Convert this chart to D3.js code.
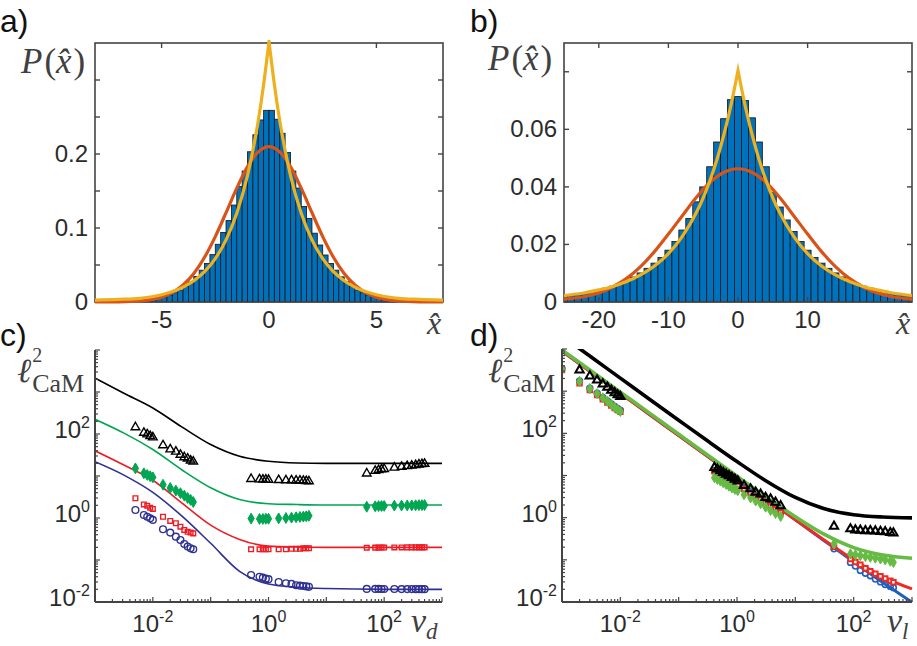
<!DOCTYPE html>
<html><head><meta charset="utf-8">
<script src="https://cdn.jsdelivr.net/npm/d3@7"></script>
<style>body{margin:0;background:#fff}svg{display:block}</style>
</head><body>
<svg id="fig" width="917" height="646"></svg>
<script>
// ================= DATA =================
// ---- Panel a ----
const aXDomain = [-8.1, 8.1];
const aYDomain = [0, 0.35];
const aXTicks = [-5, 0, 5];
const aYTicks = [0, 0.05, 0.1, 0.15, 0.2, 0.25, 0.3];
const aYTickLabels = ["0", "", "0.1", "", "0.2", "", ""];
const aBinStart = -6, aBinWidth = 0.25;
const aHist = [0.0018, 0.0026, 0.0036, 0.005, 0.007, 0.0095, 0.0125, 0.016, 0.021, 0.027, 0.0345, 0.043,
  0.052, 0.064, 0.078, 0.094, 0.110, 0.131, 0.156, 0.177, 0.203, 0.226, 0.246, 0.259,
  0.259, 0.247, 0.228, 0.202, 0.177, 0.154, 0.129, 0.113, 0.093, 0.077, 0.0635, 0.052,
  0.043, 0.034, 0.0275, 0.0216, 0.016, 0.0126, 0.0095, 0.0072, 0.005, 0.0036, 0.0027, 0.0018];
const aGaussX = [-8.1, -7, -6, -5.5, -5, -4.5, -4, -3.5, -3, -2.5, -2, -1.5, -1, -0.5, 0, 0.5, 1, 1.5, 2, 2.5, 3, 3.5, 4, 4.5, 5, 5.5, 6, 7, 8.1];
const aGaussY = [0, 0.0002, 0.0014, 0.0032, 0.0066, 0.0127, 0.0229, 0.0385, 0.0605, 0.0884, 0.1207, 0.1538, 0.183, 0.2029, 0.21,
  0.2029, 0.183, 0.1538, 0.1207, 0.0884, 0.0605, 0.0385, 0.0229, 0.0127, 0.0066, 0.0032, 0.0014, 0.0002, 0];
const aLapX = [-8.1, -7, -6, -5, -4, -3.5, -3, -2.5, -2, -1.5, -1, -0.75, -0.5, -0.25, 0, 0.25, 0.5, 0.75, 1, 1.5, 2, 2.5, 3, 3.5, 4, 5, 6, 7, 8.1];
const aLapY = [0.0025, 0.0035, 0.005, 0.0098, 0.020, 0.0287, 0.041, 0.0587, 0.084, 0.12, 0.171, 0.205, 0.245, 0.294, 0.352,
  0.294, 0.245, 0.205, 0.171, 0.12, 0.084, 0.0587, 0.041, 0.0287, 0.020, 0.0098, 0.005, 0.0035, 0.0025];

// ---- Panel b ----
const bXDomain = [-25, 25];
const bYDomain = [0, 0.09];
const bXTicks = [-20, -10, 0, 10];
const bYTicks = [0, 0.02, 0.04, 0.06, 0.08];
const bYTickLabels = ["0", "0.02", "0.04", "0.06", ""];
const bBinStart = -25.5, bBinWidth = 1;
const bHist = [0.0021, 0.0024, 0.0028, 0.0032, 0.0037, 0.0042, 0.0048, 0.0055, 0.0063, 0.0072, 0.0087, 0.0101, 0.0117, 0.0135, 0.0155,
  0.018, 0.021, 0.025, 0.029, 0.0348, 0.040, 0.047, 0.0556, 0.0637, 0.0703,
  0.0714,
  0.070, 0.064, 0.0556, 0.047, 0.038, 0.033, 0.0285, 0.0245, 0.021, 0.018,
  0.0155, 0.0135, 0.0117, 0.0101, 0.0087, 0.0072, 0.0063, 0.0055, 0.0048, 0.0042, 0.0037, 0.0032, 0.0028, 0.0024, 0.0021];
const bGaussX = [-25, -22, -20, -18, -16, -14, -12, -10, -8, -6, -4, -2, 0, 2, 4, 6, 8, 10, 12, 14, 16, 18, 20, 22, 25];
const bGaussY = [0.0010, 0.0019, 0.0031, 0.0052, 0.0082, 0.0123, 0.0175, 0.0236, 0.030, 0.0363, 0.0416, 0.0451, 0.0463,
  0.0451, 0.0416, 0.0363, 0.030, 0.0236, 0.0175, 0.0123, 0.0082, 0.0052, 0.0031, 0.0019, 0.0010];
const bLapX = [-25, -22, -20, -18, -16, -14, -12, -10, -8, -6, -5, -4, -3, -2, -1, 0, 1, 2, 3, 4, 5, 6, 8, 10, 12, 14, 16, 18, 20, 22, 25];
const bLapY = [0.0022, 0.0032, 0.0042, 0.0054, 0.0071, 0.0094, 0.0125, 0.0168, 0.0228, 0.031, 0.0362, 0.0424, 0.0497, 0.0584, 0.0685, 0.0804,
  0.0685, 0.0584, 0.0497, 0.0424, 0.0362, 0.031, 0.0228, 0.0168, 0.0125, 0.0094, 0.0071, 0.0054, 0.0042, 0.0032, 0.0022];

// ---- Panels c and d (log-log) ----
const logXDomain = [1e-3, 1e3];
const logYDomain = [1e-2, 1e4];
const logLabelExps = [-2, 0, 2];

// Panel c: theory lines
const cLineX = [0.001, 0.00316, 0.01, 0.0316, 0.1, 0.316, 1, 3.16, 10, 100, 1000];
const cBlackLine = [2138, 933, 417, 148, 56.2, 29.5, 22.4, 20.4, 20.0, 20.0, 20.0];
const cGreenLine = [224, 105, 42.7, 14.1, 5.25, 2.75, 2.19, 2.09, 2.04, 2.04, 2.04];
const cRedLine = [39.8, 18.2, 7.94, 2.29, 0.676, 0.309, 0.214, 0.204, 0.200, 0.200, 0.200];
const cBlueLine = [21.9, 10.5, 4.07, 1.12, 0.25, 0.0537, 0.0269, 0.0224, 0.0209, 0.0200, 0.0200];
// Panel c: simulation markers
const cX1 = [0.005, 0.007, 0.008, 0.009, 0.01, 0.015, 0.02, 0.025, 0.03, 0.035, 0.04, 0.045, 0.05];
const cX2 = [0.5, 0.7, 0.8, 0.9, 1, 1.5, 2, 2.5, 3, 3.5, 4, 4.5, 5];
const cX3 = [50, 70, 80, 90, 100, 150, 200, 250, 300, 350, 400, 450, 500];
const cBlack1 = [145, 107, 98, 89, 83, 54, 43, 38, 32, 28, 26, 23.4, 22];
const cBlack2 = [8.5, 8.3, 8.2, 8.2, 8.1, 8.0, 7.9, 7.9, 7.8, 7.8, 7.7, 7.6, 7.5];
const cBlack3 = [11.5, 13.2, 13.9, 14.4, 14.7, 15.8, 16.6, 17.2, 17.6, 18.2, 18.8, 19.2, 19.5];
const cGreen1 = [15.2, 11.6, 10.6, 9.9, 9.3, 6.2, 5.2, 4.5, 3.9, 3.4, 3.0, 2.7, 2.4];
const cGreen2 = [0.97, 0.95, 0.95, 0.96, 0.96, 0.98, 1.0, 1.02, 1.04, 1.06, 1.08, 1.1, 1.13];
const cGreen3 = [1.85, 1.9, 1.92, 1.93, 1.94, 1.97, 1.98, 1.99, 2.0, 2.01, 2.02, 2.03, 2.04];
const cRed1 = [2.95, 2.1, 1.96, 1.76, 1.64, 1.07, 0.85, 0.75, 0.62, 0.52, 0.47, 0.45, 0.43];
const cRed2 = [0.18, 0.18, 0.18, 0.18, 0.18, 0.18, 0.18, 0.185, 0.185, 0.185, 0.19, 0.19, 0.19];
const cRed3 = [0.196, 0.197, 0.197, 0.198, 0.198, 0.199, 0.199, 0.2, 0.2, 0.2, 0.2, 0.2, 0.2];
const cBlue1 = [1.55, 1.18, 1.07, 0.98, 0.90, 0.54, 0.45, 0.36, 0.30, 0.24, 0.21, 0.19, 0.18];
const cBlue2 = [0.044, 0.040, 0.038, 0.036, 0.035, 0.030, 0.028, 0.027, 0.025, 0.0245, 0.024, 0.0235, 0.023];
const cBlue3 = [0.0205, 0.0205, 0.0205, 0.0204, 0.0204, 0.0204, 0.0203, 0.0203, 0.0203, 0.0202, 0.0202, 0.0202, 0.0202];

// Panel d: theory lines
const dLineX = [0.001, 0.00316, 0.01, 0.0316, 0.1, 0.316, 1, 3.16, 10, 31.6, 100, 316, 1000];
const dBlackLine = [20400, 6456, 2041, 646, 205, 65.5, 21.4, 7.42, 3.01, 1.62, 1.174, 1.035, 0.99];
const dGreenLine = [9500, 3006, 950, 301, 95.1, 30.2, 9.6, 3.11, 1.05, 0.40, 0.195, 0.130, 0.1095];
const dRedLine = [8840, 2797, 884, 280, 88.4, 28, 8.85, 2.81, 0.896, 0.291, 0.100, 0.0396, 0.0204];
const dBlueLine = [8840, 2797, 884, 280, 88.4, 28, 8.84, 2.80, 0.885, 0.281, 0.0894, 0.0290, 0.0099];
// Panel d: simulation markers
const dX1 = [0.001, 0.002, 0.003, 0.004, 0.005, 0.006, 0.007, 0.008, 0.009, 0.01];
const dX1b = [0.002, 0.003, 0.004, 0.005, 0.006, 0.007, 0.008, 0.009, 0.01];
const dX2 = [0.41, 0.46, 0.52, 0.58, 0.65, 0.73, 0.82, 0.92, 1.03, 1.32, 1.71, 2.09, 2.54, 3.09, 3.76, 4.57, 5.6];
const dX3 = [46, 88, 107, 130, 159, 193, 235, 288, 347, 425, 480];
const dBlack1 = [3162, 2291, 1820, 1479, 1230, 1047, 912, 813, 741];
const dBlack2 = [15.5, 14.1, 12.9, 11.7, 10.7, 9.8, 8.9, 8.1, 7.4, 5.75, 4.8, 4.0, 3.6, 3.0, 2.75, 2.3, 1.9];
const dBlack3 = [0.62, 0.54, 0.51, 0.50, 0.49, 0.49, 0.48, 0.47, 0.46, 0.44, 0.43];
const dGreen1 = [3311, 1698, 1148, 871, 692, 575, 479, 407, 363, 331];
const dGreen2 = [8.9, 8.1, 7.4, 6.8, 6.2, 5.6, 5.1, 4.7, 4.4, 3.5, 2.95, 2.5, 2.15, 1.78, 1.48, 1.26, 1.07];
const dGreen3 = [0.24, 0.138, 0.132, 0.126, 0.12, 0.115, 0.11, 0.105, 0.1, 0.093, 0.087];
const dRed1 = [3162, 1549, 1072, 813, 646, 537, 457, 398, 355, 324];
const dRed2 = [12.6, 11.5, 10.5, 9.5, 8.7, 7.9, 7.2, 6.6, 6.0, 4.8, 3.8, 3.16, 2.7, 2.24, 1.9, 1.58, 1.32];
const dRed3 = [0.204, 0.105, 0.089, 0.076, 0.063, 0.054, 0.047, 0.041, 0.036, 0.032, 0.0295];
const dBlue1 = [3400, 1738, 1175, 891, 708, 589, 501, 437, 389, 355];
const dBlue2 = [13.2, 12.0, 11.0, 10.0, 9.1, 8.3, 7.6, 6.9, 6.3, 5.0, 4.0, 3.3, 2.8, 2.3, 1.95, 1.62, 1.35];
const dBlue3 = [0.182, 0.087, 0.071, 0.056, 0.048, 0.042, 0.035, 0.030, 0.026, 0.0234, 0.0219];

// ================= DRAWING =================
const svg = d3.select("#fig");
const SANS = "'Liberation Sans', Arial, Helvetica, sans-serif";
const SERIF = "'Liberation Serif', 'DejaVu Serif', serif";
const AXC = "#444444";
const TXT = "#2b2b2b";
const LBL = "#404040";
let clipId = 0;

function addClip(x0, y0, w, h) {
  const id = "clip" + (clipId++);
  svg.append("clipPath").attr("id", id).append("rect")
    .attr("x", x0).attr("y", y0).attr("width", w).attr("height", h);
  return "url(#" + id + ")";
}

function panelLabel(txt, x, y) {
  svg.append("text").attr("x", x).attr("y", y).attr("font-family", SANS)
    .attr("font-size", 32).attr("fill", "#111").text(txt);
}

function histPanel(o) {
  const x = d3.scaleLinear().domain(o.xDomain).range([o.x0, o.x1]);
  const y = d3.scaleLinear().domain(o.yDomain).range([o.y0, o.y1]);
  const g = svg.append("g");
  const clip = addClip(o.x0, o.y1 - 3, o.x1 - o.x0, o.y0 - o.y1 + 5);
  const bins = o.hist.map((p, i) => ({x0: o.binStart + i * o.binWidth, x1: o.binStart + (i + 1) * o.binWidth, p}));
  g.append("g").attr("clip-path", clip).selectAll("rect").data(bins).join("rect")
    .attr("x", d => x(d.x0)).attr("width", d => x(d.x1) - x(d.x0))
    .attr("y", d => y(d.p)).attr("height", d => y(0) - y(d.p))
    .attr("fill", "#0072BD").attr("stroke", "#1a1a1a").attr("stroke-width", 0.85);
  // box
  g.append("rect").attr("x", o.x0).attr("y", o.y1).attr("width", o.x1 - o.x0).attr("height", o.y0 - o.y1)
    .attr("fill", "none").attr("stroke", AXC).attr("stroke-width", 1.6);
  // ticks inward, all four sides
  const tl = 5;
  const ax = g.append("g").attr("stroke", AXC).attr("stroke-width", 1.4);
  o.xTicks.forEach(t => {
    ax.append("line").attr("x1", x(t)).attr("x2", x(t)).attr("y1", o.y0).attr("y2", o.y0 - tl);
    ax.append("line").attr("x1", x(t)).attr("x2", x(t)).attr("y1", o.y1).attr("y2", o.y1 + tl);
  });
  o.yTicks.forEach(t => {
    ax.append("line").attr("x1", o.x0).attr("x2", o.x0 + tl).attr("y1", y(t)).attr("y2", y(t));
    ax.append("line").attr("x1", o.x1).attr("x2", o.x1 - tl).attr("y1", y(t)).attr("y2", y(t));
  });
  // tick labels
  g.append("g").selectAll("text").data(o.xTicks).join("text")
    .attr("x", d => x(d)).attr("y", o.y0 + 26).attr("text-anchor", "middle")
    .attr("font-family", SANS).attr("font-size", 24).attr("fill", TXT)
    .text(d => d < 0 ? "-" + Math.abs(d) : String(d));
  g.append("g").selectAll("text").data(o.yTicks).join("text")
    .attr("x", o.x0 - 7).attr("y", d => y(d) + 8).attr("text-anchor", "end")
    .attr("font-family", SANS).attr("font-size", 24).attr("fill", TXT)
    .text((d, i) => o.yLabels[i]);
  // curves
  const line = d3.line().x(d => x(d[0])).y(d => y(d[1])).curve(d3.curveMonotoneX);
  const cg = g.append("g").attr("clip-path", clip).attr("fill", "none");
  const gPts = o.gaussX.map((v, i) => [v, o.gaussY[i]]);
  cg.append("path").attr("d", line(gPts)).attr("stroke", "#D95319").attr("stroke-width", 3.2);
  const lPts = o.lapX.map((v, i) => [v, o.lapY[i]]);
  const pk = d3.maxIndex(lPts, d => d[1]);
  const dPath = line(lPts.slice(0, pk + 1)) + line(lPts.slice(pk)).replace(/^M/, "L");
  cg.append("path").attr("d", dPath).attr("stroke", "#EDB120").attr("stroke-width", 3.2)
    .attr("stroke-linejoin", "miter").attr("stroke-miterlimit", 20);
  // axis labels
  const pl = svg.append("text").attr("x", o.pX).attr("y", o.pY).attr("font-family", SERIF)
    .attr("font-size", 35).attr("fill", LBL);
  pl.append("tspan").attr("font-style", "italic").text("P");
  pl.append("tspan").attr("dx", 2).text("(");
  pl.append("tspan").attr("font-style", "italic").text("x\u0302");
  pl.append("tspan").attr("dx", 2).text(")");
  svg.append("text").attr("x", o.xlX).attr("y", o.xlY).attr("font-family", SERIF)
    .attr("font-size", 32).attr("font-style", "italic").attr("fill", LBL).text("x\u0302");
}

function logPanel(o) {
  const x = d3.scaleLog().domain(logXDomain).range([o.x0, o.x1]);
  const y = d3.scaleLog().domain(logYDomain).range([o.y0, o.y1]);
  const g = svg.append("g");
  const clip = addClip(o.x0, o.y1, o.x1 - o.x0 + 2, o.y0 - o.y1);
  const line = d3.line().x(d => x(d[0])).y(d => y(d[1])).curve(d3.curveMonotoneX);
  const lg = g.append("g").attr("clip-path", clip).attr("fill", "none");
  o.lines.forEach(L => {
    lg.append("path").attr("d", line(o.lineX.map((v, i) => [v, L.y[i]])))
      .attr("stroke", L.color).attr("stroke-width", L.w);
  });
  // markers
  const mg = g.append("g").attr("clip-path", clip);
  o.markers.forEach(M => {
    const pts = [];
    M.groups.forEach(gr => gr.x.forEach((v, i) => pts.push([v, gr.y[i]])));
    const sym = d3.symbol().type(M.type).size(M.size);
    mg.append("g").selectAll("path").data(pts).join("path")
      .attr("transform", d => `translate(${x(d[0])},${y(d[1])})`)
      .attr("d", sym())
      .attr("fill", M.fill).attr("stroke", M.color).attr("stroke-width", M.sw);
  });
  // axes (left + bottom)
  const ax = g.append("g").attr("stroke", AXC);
  ax.append("line").attr("x1", o.x0).attr("x2", o.x0).attr("y1", o.y1).attr("y2", o.y0).attr("stroke-width", 2);
  ax.append("line").attr("x1", o.x0).attr("x2", o.x1).attr("y1", o.y0).attr("y2", o.y0).attr("stroke-width", 2);
  const xT = [], yT = [];
  for (let k = -3; k < 3; k++) for (let m = 1; m < 10; m++) xT.push({v: m * Math.pow(10, k), major: m === 1});
  xT.push({v: 1e3, major: true});
  for (let k = -2; k < 4; k++) for (let m = 1; m < 10; m++) yT.push({v: m * Math.pow(10, k), major: m === 1});
  yT.push({v: 1e4, major: true});
  xT.forEach(t => ax.append("line").attr("x1", x(t.v)).attr("x2", x(t.v)).attr("y1", o.y0)
    .attr("y2", o.y0 - (t.major ? 5 : 3)).attr("stroke-width", 1.2));
  yT.forEach(t => ax.append("line").attr("y1", y(t.v)).attr("y2", y(t.v)).attr("x1", o.x0)
    .attr("x2", o.x0 + (t.major ? 5 : 3)).attr("stroke-width", 1.2));
  logLabelExps.forEach(e => {
    const tx = g.append("text").attr("x", x(Math.pow(10, e))).attr("y", o.y0 + 30)
      .attr("text-anchor", "middle").attr("font-family", SANS).attr("font-size", 24).attr("fill", TXT);
    tx.append("tspan").text("10");
    tx.append("tspan").attr("font-size", 16).attr("dy", -10).text(e < 0 ? "-" + Math.abs(e) : String(e));
    const ty = g.append("text").attr("x", o.x0 - 5).attr("y", y(Math.pow(10, e)) + 4)
      .attr("text-anchor", "end").attr("font-family", SANS).attr("font-size", 24).attr("fill", TXT);
    ty.append("tspan").text("10");
    ty.append("tspan").attr("font-size", 16).attr("dy", -10).text(e < 0 ? "-" + Math.abs(e) : String(e));
  });
  // y label  l^2_CaM as one text element
  const ly = g.append("text").attr("x", o.lX).attr("y", o.lY).attr("font-family", SERIF)
    .attr("fill", LBL).attr("font-size", 34);
  ly.append("tspan").attr("font-style", "italic").text("\u2113");
  ly.append("tspan").attr("font-size", 20).attr("dx", 1).attr("dy", -20).text("2");
  ly.append("tspan").attr("font-size", 26).attr("dx", -10).attr("dy", 30).text("CaM");
  // x label nu_sub
  const nx = g.append("text").attr("x", o.nX).attr("y", o.y0 + 30).attr("font-family", SERIF)
    .attr("font-style", "italic").attr("fill", LBL).attr("font-size", 34);
  nx.append("tspan").text("\u03bd");
  nx.append("tspan").attr("font-size", 23).attr("dy", 7).text(o.sub);
}

// ---- Panel a ----
panelLabel("a)", 0, 32);
histPanel({x0: 95, x1: 443, y0: 302, y1: 43, xDomain: aXDomain, yDomain: aYDomain,
  xTicks: aXTicks, yTicks: aYTicks, yLabels: aYTickLabels,
  hist: aHist, binStart: aBinStart, binWidth: aBinWidth,
  gaussX: aGaussX, gaussY: aGaussY, lapX: aLapX, lapY: aLapY,
  pX: 21, pY: 73, xlX: 427, xlY: 334});

// ---- Panel b ----
panelLabel("b)", 470, 32);
histPanel({x0: 564, x1: 912, y0: 302, y1: 43, xDomain: bXDomain, yDomain: bYDomain,
  xTicks: bXTicks, yTicks: bYTicks, yLabels: bYTickLabels,
  hist: bHist, binStart: bBinStart, binWidth: bBinWidth,
  gaussX: bGaussX, gaussY: bGaussY, lapX: bLapX, lapY: bLapY,
  pX: 488, pY: 70, xlX: 896, xlY: 334});

// ---- Panel c ----
panelLabel("c)", 0, 346);
logPanel({x0: 95, x1: 442, y0: 602, y1: 350, lineX: cLineX,
  lines: [
    {y: cBlackLine, color: "#000000", w: 1.6},
    {y: cGreenLine, color: "#00A651", w: 1.6},
    {y: cRedLine, color: "#ED1C24", w: 1.6},
    {y: cBlueLine, color: "#2E3192", w: 1.6}],
  markers: [
    {type: d3.symbolTriangle, size: 32, fill: "none", color: "#000", sw: 1.4,
      groups: [{x: cX1, y: cBlack1}, {x: cX2, y: cBlack2}, {x: cX3, y: cBlack3}]},
    {type: d3.symbolDiamond, size: 34, fill: "#00A651", color: "#00A651", sw: 1,
      groups: [{x: cX1, y: cGreen1}, {x: cX2, y: cGreen2}, {x: cX3, y: cGreen3}]},
    {type: d3.symbolSquare, size: 22, fill: "none", color: "#ED1C24", sw: 1.4,
      groups: [{x: cX1, y: cRed1}, {x: cX2, y: cRed2}, {x: cX3, y: cRed3}]},
    {type: d3.symbolCircle, size: 36, fill: "none", color: "#2E3192", sw: 1.4,
      groups: [{x: cX1, y: cBlue1}, {x: cX2, y: cBlue2}, {x: cX3, y: cBlue3}]}],
  lX: 17, lY: 382, nX: 411, sub: "d"});

// ---- Panel d ----
panelLabel("d)", 470, 346);
logPanel({x0: 562, x1: 912, y0: 602, y1: 349, lineX: dLineX,
  lines: [
    {y: dBlueLine, color: "#1F5FBF", w: 3},
    {y: dRedLine, color: "#EE2A24", w: 3},
    {y: dGreenLine, color: "#66BB44", w: 3.6},
    {y: dBlackLine, color: "#000000", w: 3.6}],
  markers: [
    {type: d3.symbolCircle, size: 26, fill: "none", color: "#1F5FBF", sw: 1.6,
      groups: [{x: dX1, y: dBlue1}, {x: dX2, y: dBlue2}, {x: dX3, y: dBlue3}]},
    {type: d3.symbolSquare, size: 20, fill: "#fff", color: "#EE2A24", sw: 2,
      groups: [{x: dX1, y: dRed1}, {x: dX2, y: dRed2}, {x: dX3, y: dRed3}]},
    {type: d3.symbolDiamond, size: 30, fill: "#66BB44", color: "#66BB44", sw: 1,
      groups: [{x: dX1, y: dGreen1}, {x: dX2, y: dGreen2}, {x: dX3, y: dGreen3}]},
    {type: d3.symbolTriangle, size: 30, fill: "none", color: "#000", sw: 2,
      groups: [{x: dX1b, y: dBlack1}, {x: dX2, y: dBlack2}, {x: dX3, y: dBlack3}]}],
  lX: 488, lY: 382, nX: 887, sub: "l"});
</script>
</body></html>
